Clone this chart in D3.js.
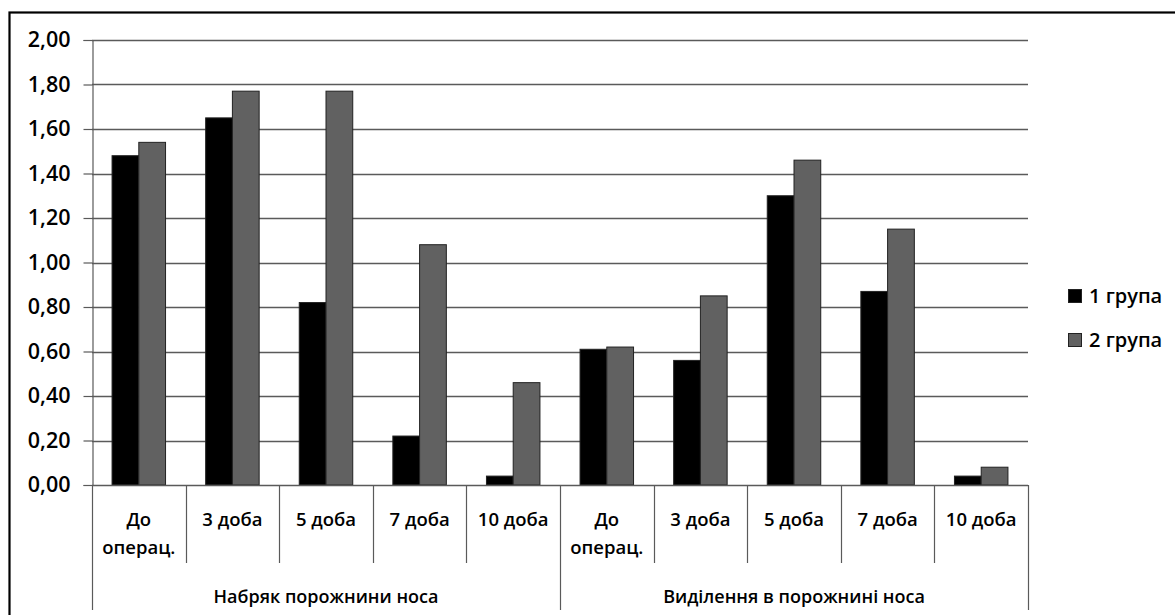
<!DOCTYPE html>
<html>
<head>
<meta charset="utf-8">
<script src="https://cdn.jsdelivr.net/npm/d3@7"></script>
<style>
  html, body { margin: 0; padding: 0; background: #fff; }
  svg { display: block; }
  text { font-family: "Open Sans", "DejaVu Sans", sans-serif; fill: #000; }
</style>
</head>
<body>
<svg id="chart" width="1175" height="615"></svg>
<script>
// Category labels inside each group (first entry wraps to two lines)
const periods = [["До", "операц."], ["3 доба"], ["5 доба"], ["7 доба"], ["10 доба"]];
const groups = ["Набряк порожнини носа", "Виділення в порожнині носа"];
const seriesNames = ["1 група", "2 група"];
const seriesColors = ["#000000", "#616161"];

// Values per category, groups in order (5 periods for each group)
const group1Values = [1.48, 1.65, 0.82, 0.22, 0.04, 0.61, 0.56, 1.30, 0.87, 0.04];
const group2Values = [1.54, 1.77, 1.77, 1.08, 0.46, 0.62, 0.85, 1.46, 1.15, 0.08];

const yTicks = [0, 0.2, 0.4, 0.6, 0.8, 1.0, 1.2, 1.4, 1.6, 1.8, 2.0];

const svg = d3.select("#chart");
const W = 1175, H = 615;
const plot = { left: 92, right: 1028, top: 40, bottom: 485 };

// Outer frame (only top and left edges fall inside the drawing)
svg.append("rect")
  .attr("x", 9.5).attr("y", 12.5)
  .attr("width", W + 20).attr("height", H + 20)
  .attr("fill", "none").attr("stroke", "#000").attr("stroke-width", 2.2);

const cats = d3.range(groups.length * periods.length);
const x = d3.scaleBand().domain(cats).range([plot.left, plot.right]).padding(0);
const xs = d3.scaleBand().domain([0, 1]).range([0, x.bandwidth()])
  .paddingInner(0).paddingOuter(0.75);
const y = d3.scaleLinear().domain([0, 2]).range([plot.bottom, plot.top]);

const gridColor = "#5a5a5a";

// Horizontal gridlines
svg.append("g")
  .selectAll("line")
  .data(yTicks.filter(d => d > 0))
  .join("line")
  .attr("x1", plot.left).attr("x2", plot.right)
  .attr("y1", d => Math.round(y(d)) + 0.5).attr("y2", d => Math.round(y(d)) + 0.5)
  .attr("stroke", gridColor).attr("stroke-width", 1.4);

// Y axis
const yAxis = d3.axisLeft(y)
  .tickValues(yTicks)
  .tickSize(9)
  .tickPadding(13)
  .tickFormat(d => d3.format(".2f")(d).replace(".", ","));
const yg = svg.append("g")
  .attr("transform", `translate(${plot.left + 0.5},0)`)
  .call(yAxis);
yg.select(".domain").attr("stroke", gridColor).attr("stroke-width", 1.2);
yg.selectAll(".tick line").attr("stroke", gridColor).attr("stroke-width", 1.2);
yg.selectAll(".tick text")
  .attr("font-family", "Open Sans, DejaVu Sans, sans-serif")
  .attr("font-size", 21.5).attr("font-weight", 600).attr("fill", "#000");

// Bars
const barData = [];
cats.forEach(i => {
  barData.push({ cat: i, s: 0, v: group1Values[i] });
  barData.push({ cat: i, s: 1, v: group2Values[i] });
});
svg.append("g")
  .selectAll("rect")
  .data(barData)
  .join("rect")
  .attr("x", d => x(d.cat) + xs(d.s))
  .attr("y", d => y(d.v))
  .attr("width", xs.bandwidth())
  .attr("height", d => y(0) - y(d.v))
  .attr("fill", d => seriesColors[d.s])
  .attr("stroke", "#222").attr("stroke-width", 1);

// X axis baseline
svg.append("line")
  .attr("x1", plot.left).attr("x2", plot.right)
  .attr("y1", plot.bottom + 0.5).attr("y2", plot.bottom + 0.5)
  .attr("stroke", gridColor).attr("stroke-width", 1.4);

// Category dividers (short) and group dividers (long)
const boundaries = d3.range(cats.length + 1);
svg.append("g")
  .selectAll("line")
  .data(boundaries)
  .join("line")
  .attr("x1", i => Math.round(plot.left + i * x.step()) + 0.5)
  .attr("x2", i => Math.round(plot.left + i * x.step()) + 0.5)
  .attr("y1", plot.bottom)
  .attr("y2", i => (i % periods.length === 0) ? 610 : 563)
  .attr("stroke", gridColor).attr("stroke-width", 1.2);

// Category labels
const catLabels = svg.append("g");
cats.forEach(i => {
  const lines = periods[i % periods.length];
  const cx = x(i) + x.bandwidth() / 2;
  lines.forEach((t, k) => {
    catLabels.append("text")
      .attr("x", cx).attr("y", 526 + k * 28)
      .attr("text-anchor", "middle")
      .attr("font-size", 18.5).attr("font-weight", 600)
      .text(t);
  });
});

// Group labels
groups.forEach((g, gi) => {
  const first = x(gi * periods.length);
  const last = x(gi * periods.length + periods.length - 1) + x.bandwidth();
  svg.append("text")
    .attr("x", (first + last) / 2).attr("y", 603)
    .attr("text-anchor", "middle")
    .attr("font-size", 18).attr("font-weight", 600)
    .text(g);
});

// Legend
const legend = svg.append("g").attr("transform", "translate(1068,289)");
seriesNames.forEach((n, i) => {
  const row = legend.append("g").attr("transform", `translate(0,${i * 44})`);
  row.append("rect")
    .attr("x", 0.5).attr("y", 0.5).attr("width", 13).attr("height", 13)
    .attr("fill", seriesColors[i]).attr("stroke", "#222").attr("stroke-width", 1);
  row.append("text")
    .attr("x", 21).attr("y", 7).attr("dy", "0.36em")
    .attr("font-size", 20).attr("font-weight", 600)
    .text(n);
});
</script>
</body>
</html>
